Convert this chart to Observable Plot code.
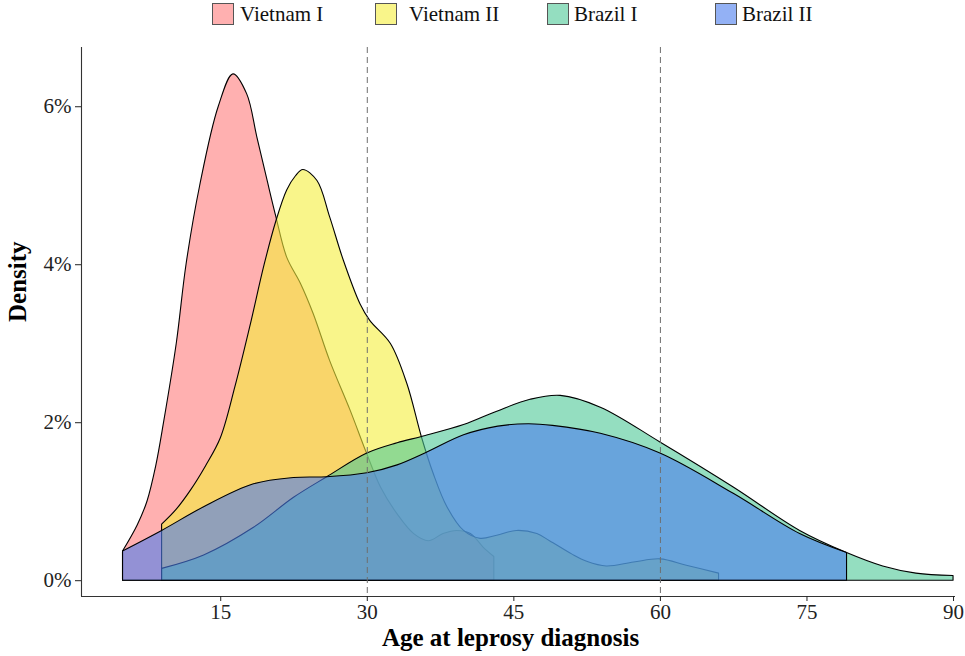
<!DOCTYPE html>
<html><head><meta charset="utf-8">
<script src="https://cdn.jsdelivr.net/npm/d3@7"></script>
<script src="https://cdn.jsdelivr.net/npm/@observablehq/plot@0.6"></script>
<style>
body{margin:0;background:#fff;font-family:"Liberation Serif","Times New Roman",serif;}
#legend{position:relative;height:28px;width:965px;}
.key{position:absolute;top:3px;width:22px;height:22px;border:1px solid #555;box-sizing:border-box;}
.lab{position:absolute;top:0;font-size:21px;line-height:28px;color:#111;white-space:nowrap;}
</style></head><body>
<div id="legend"></div>
<div id="chart"></div>
<script>
// ---- data ----
const groups = ["Vietnam I", "Vietnam II", "Brazil I", "Brazil II"];

const vn1Age  = [5, 6.5, 7.5, 8.4, 9.2, 10.5, 11.5, 12.9, 14.8, 16.3, 17.7, 18.75, 19.8, 20.7, 21.8, 23.2, 24.5, 26.2, 28.3, 30, 31.4, 33.1, 34.8, 36.3, 37.8, 39.2, 40.6, 41.9, 43];
const vn1Dens = [0.37, 0.7, 1.0, 1.45, 2.0, 3.0, 4.0, 5.0, 6.0, 6.41, 6.16, 5.61, 5.06, 4.6, 4.09, 3.76, 3.38, 2.78, 2.15, 1.6, 1.18, 0.84, 0.59, 0.5, 0.59, 0.63, 0.59, 0.42, 0.3];

const vn2Age  = [9, 10.5, 12, 13.5, 15, 16.5, 18, 19.5, 20.7, 21.8, 22.7, 23.45, 24.9, 26.2, 27.6, 29.3, 30.3, 32.4, 34.1, 35.6, 36.8, 38.2, 39.9, 41.6, 43.3, 45.3, 47.4, 48.7, 51, 52.5, 54.5, 57.3, 60, 62.7, 66];
const vn2Dens = [0.71, 0.9, 1.15, 1.45, 1.8, 2.45, 3.2, 4.0, 4.55, 4.94, 5.12, 5.2, 5.06, 4.6, 4.05, 3.5, 3.29, 3.0, 2.49, 1.81, 1.35, 0.93, 0.63, 0.53, 0.57, 0.63, 0.59, 0.5, 0.33, 0.24, 0.18, 0.23, 0.27, 0.19, 0.09];

const br1Age  = [9, 13.3, 18.4, 22.5, 25.9, 30, 33.1, 35.6, 39.9, 43.3, 46.7, 49.8, 53.9, 60, 67.5, 74.3, 79.1, 82.8, 86.2, 90];
const br1Dens = [0.15, 0.32, 0.67, 1.05, 1.31, 1.61, 1.74, 1.82, 1.97, 2.14, 2.29, 2.34, 2.19, 1.75, 1.18, 0.63, 0.35, 0.18, 0.09, 0.06];

const br2Age  = [5, 9, 13.3, 18.4, 22.5, 25.9, 30, 33.1, 36.1, 39.9, 43.4, 46.5, 49, 53.9, 60, 67.5, 74.3, 79.1];
const br2Dens = [0.37, 0.63, 0.93, 1.22, 1.3, 1.31, 1.36, 1.46, 1.62, 1.84, 1.95, 1.98, 1.96, 1.86, 1.61, 1.10, 0.59, 0.35];

const xTicks = [15, 30, 45, 60, 75, 90];
const yTicks = [0, 2, 4, 6];
const cutoffs = [30, 60];

// ---- styling ----
const fills = ["rgb(255,123,123)", "rgb(245,238,60)", "rgb(77,200,150)", "rgb(75,125,238)"];
const alpha = 0.6;
const legendKeyX = [212, 375, 547, 715];
const legendLabX = [240, 409, 574, 742];

const series = [[vn1Age, vn1Dens], [vn2Age, vn2Dens], [br1Age, br1Dens], [br2Age, br2Dens]];
const table = [];
series.forEach(([ages, dens], i) => ages.forEach((a, j) => table.push({group: groups[i], age: a, dens: dens[j]})));

// legend
const leg = document.getElementById("legend");
groups.forEach((g, i) => {
  const k = document.createElement("div");
  k.className = "key";
  k.style.left = legendKeyX[i] + "px";
  k.style.background = fills[i].replace("rgb", "rgba").replace(")", "," + alpha + ")");
  leg.appendChild(k);
  const t = document.createElement("div");
  t.className = "lab";
  t.style.left = legendLabX[i] + "px";
  t.textContent = g;
  leg.appendChild(t);
});

const areas = groups.map((g, i) => Plot.areaY(table.filter(d => d.group === g), {
  x: "age", y: "dens", curve: "catmull-rom",
  fill: fills[i], fillOpacity: alpha, stroke: "#000", strokeWidth: 1.1, strokeLinejoin: "round"
}));

const chart = Plot.plot({
  width: 965, height: 628,
  marginLeft: 81, marginRight: 10, marginTop: 19, marginBottom: 60,
  style: {fontFamily: "'Liberation Serif', 'Times New Roman', serif", fontSize: "21px", background: "#fff", color: "#111"},
  x: {domain: [0.75, 90.2]},
  y: {domain: [-0.2, 6.75]},
  marks: [
    ...areas,
    Plot.ruleX(cutoffs, {stroke: "#6e6e6e", strokeDasharray: "6,4", strokeWidth: 1}),
    Plot.ruleY([-0.2], {stroke: "#333", strokeWidth: 1.1}),
    Plot.ruleX([0.75], {stroke: "#333", strokeWidth: 1.1}),
    Plot.axisX({ticks: xTicks, tickSize: 5, tickPadding: 3, label: null, fontSize: 21, color: "#222"}),
    Plot.axisY({ticks: yTicks, tickSize: 6, tickPadding: 4, label: null, fontSize: 21, color: "#222", tickFormat: d => d + "%"}),
    Plot.text(["Age at leprosy diagnosis"], {frameAnchor: "bottom", lineAnchor: "bottom", dy: 49, dx: -8, fontSize: 25, fontWeight: "bold", fill: "#000"}),
    Plot.text(["Density"], {frameAnchor: "left", lineAnchor: "bottom", rotate: -90, dx: -56, fontSize: 25, fontWeight: "bold", fill: "#000"})
  ]
});
document.getElementById("chart").appendChild(chart);
</script></body></html>
